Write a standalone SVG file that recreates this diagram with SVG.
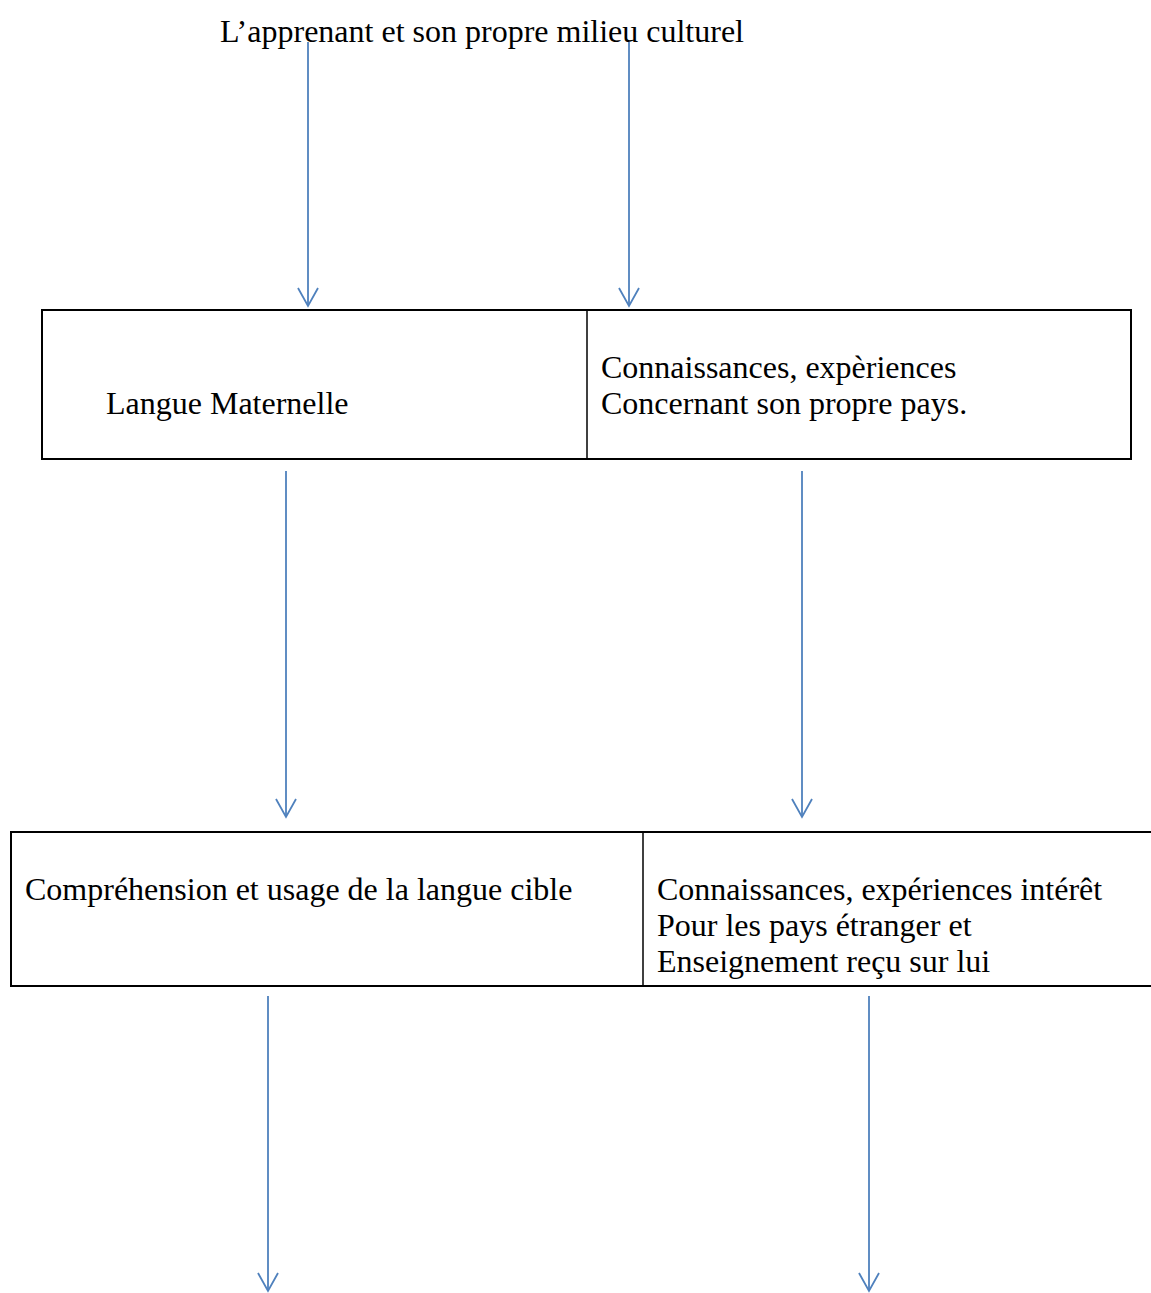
<svg xmlns="http://www.w3.org/2000/svg" width="1151" height="1293" viewBox="0 0 1151 1293">
<style>
text{font-family:"Liberation Serif","Times New Roman",serif;font-size:32px;fill:#000}
.box{fill:none;stroke:#000;stroke-width:2}
.div{stroke:#000;stroke-width:1.5}
.arr{stroke:#4F81BD;stroke-width:1.8;fill:none}
</style>
<defs>
<marker id="ah" markerUnits="userSpaceOnUse" markerWidth="24" markerHeight="26" viewBox="-20 -12 24 24" refX="0" refY="0" orient="auto">
<path d="M-18,-10 L0,0 L-18,10" fill="none" stroke="#4F81BD" stroke-width="1.8"/>
</marker>
</defs>
<rect width="1151" height="1293" fill="#fff"/>
<g id="title"><text x="220" y="42">L’apprenant et son propre milieu culturel</text></g>
<g id="box-top">
<rect class="box" x="42" y="310" width="1089" height="149"/>
<line class="div" x1="587" y1="310" x2="587" y2="459"/>
<text x="106" y="414">Langue Maternelle</text>
<text x="601" y="378">Connaissances, expèriences</text>
<text x="601" y="414">Concernant son propre pays.</text>
</g>
<g id="box-bottom">
<line class="box" x1="10" y1="832" x2="1151" y2="832"/>
<line class="box" x1="10" y1="986" x2="1151" y2="986"/>
<line class="box" x1="11" y1="832" x2="11" y2="986"/>
<line class="div" x1="643" y1="832" x2="643" y2="986"/>
<text x="25" y="900">Compréhension et usage de la langue cible</text>
<text x="657" y="900">Connaissances, expériences intérêt</text>
<text x="657" y="936">Pour les pays étranger et</text>
<text x="657" y="972">Enseignement reçu sur lui</text>
</g>
<g id="connectors">
<line class="arr" x1="308" y1="42" x2="308" y2="306" marker-end="url(#ah)"/>
<line class="arr" x1="629" y1="42" x2="629" y2="306" marker-end="url(#ah)"/>
<line class="arr" x1="286" y1="471" x2="286" y2="817" marker-end="url(#ah)"/>
<line class="arr" x1="802" y1="471" x2="802" y2="817" marker-end="url(#ah)"/>
<line class="arr" x1="268" y1="996" x2="268" y2="1291" marker-end="url(#ah)"/>
<line class="arr" x1="869" y1="996" x2="869" y2="1291" marker-end="url(#ah)"/>
</g>
</svg>
